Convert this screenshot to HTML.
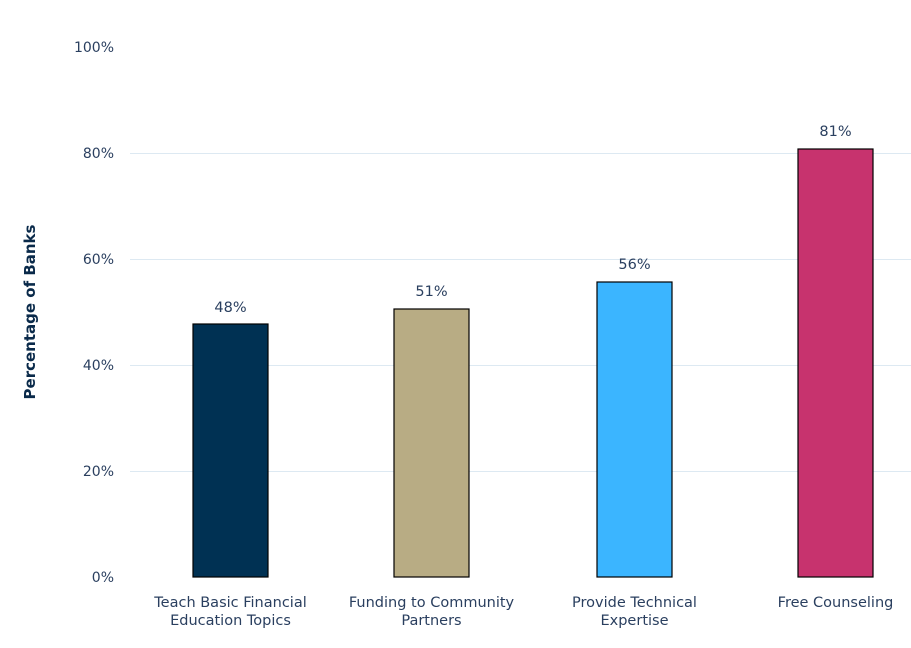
<!DOCTYPE html>
<html><head><style>body{margin:0;background:#fff}</style></head><body>
<svg width="911" height="643" xmlns="http://www.w3.org/2000/svg" font-family="DejaVu Sans, sans-serif">
<g stroke="#dde9f2" stroke-width="1">
<line x1="130" x2="911" y1="153.5" y2="153.5"/>
<line x1="130" x2="911" y1="259.5" y2="259.5"/>
<line x1="130" x2="911" y1="365.5" y2="365.5"/>
<line x1="130" x2="911" y1="471.5" y2="471.5"/>
</g>
<g font-size="14" fill="#2a3f5f" text-anchor="end">
<text x="114" y="52">100%</text>
<text x="114" y="158">80%</text>
<text x="114" y="264">60%</text>
<text x="114" y="370">40%</text>
<text x="114" y="476">20%</text>
<text x="114" y="582">0%</text>
</g>
<text transform="translate(35,312) rotate(-90)" text-anchor="middle" font-size="15" font-weight="bold" fill="#0a2a4a">Percentage of Banks</text>
<g stroke="#000" stroke-width="1.2">
<rect x="193" y="324" width="75" height="253" fill="#003153"/>
<rect x="394" y="309" width="75" height="268" fill="#b8ac84"/>
<rect x="597" y="282" width="75" height="295" fill="#3bb5ff"/>
<rect x="798" y="149" width="75" height="428" fill="#c7336e"/>
</g>
<g font-size="14.5" fill="#2a3f5f" text-anchor="middle">
<text x="230.5" y="312">48%</text>
<text x="431.5" y="296">51%</text>
<text x="634.5" y="269">56%</text>
<text x="835.5" y="136">81%</text>
<text x="230.5" y="607">Teach Basic Financial</text>
<text x="230.5" y="625">Education Topics</text>
<text x="431.5" y="607">Funding to Community</text>
<text x="431.5" y="625">Partners</text>
<text x="634.5" y="607">Provide Technical</text>
<text x="634.5" y="625">Expertise</text>
<text x="835.5" y="607">Free Counseling</text>
</g>
</svg>
</body></html>
